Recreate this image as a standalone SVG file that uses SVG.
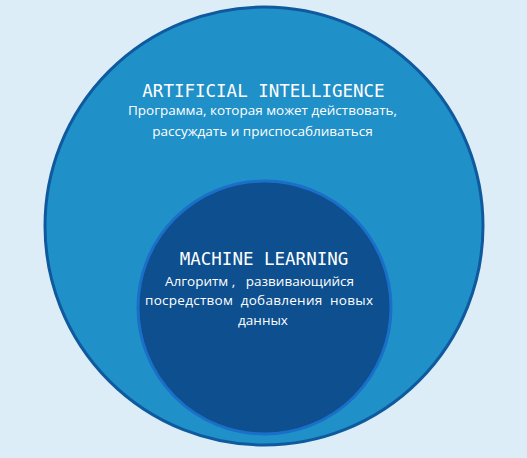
<svg xmlns="http://www.w3.org/2000/svg" width="527" height="458" viewBox="0 0 527 458">
<style>
.title{font-family:"DejaVu Sans Mono","Liberation Mono",monospace;font-size:17.5px;fill:#ffffff;text-anchor:middle}
.sub{font-family:"Open Sans","Noto Sans","DejaVu Sans",sans-serif;font-size:13.5px;fill:#ffffff;text-anchor:middle;white-space:pre}
</style>
<rect width="527" height="458" fill="#dcedf7"/>
<g id="ai">
<circle cx="264" cy="226" r="219" fill="#2090c8" stroke="#0f5a9e" stroke-width="3"/>
<text class="title" x="263.5" y="97">ARTIFICIAL INTELLIGENCE</text>
<text class="sub" x="262.5" y="115" textLength="269" lengthAdjust="spacingAndGlyphs">Программа, которая может действовать,</text>
<text class="sub" x="262.5" y="136">рассуждать и приспосабливаться</text>
</g>
<g id="ml">
<circle cx="264.5" cy="307.5" r="126.5" fill="#0d4f8f" stroke="#1a6fc8" stroke-width="3"/>
<text class="title" x="264" y="265">MACHINE LEARNING</text>
<text class="sub" x="259.5" y="286" xml:space="preserve">Алгоритм ,   развивающийся</text>
<text class="sub" x="259" y="305" xml:space="preserve" textLength="228" lengthAdjust="spacing">посредством  добавления  новых</text>
<text class="sub" x="263" y="325">данных</text>
</g>
<g id="connectors"/>
</svg>
